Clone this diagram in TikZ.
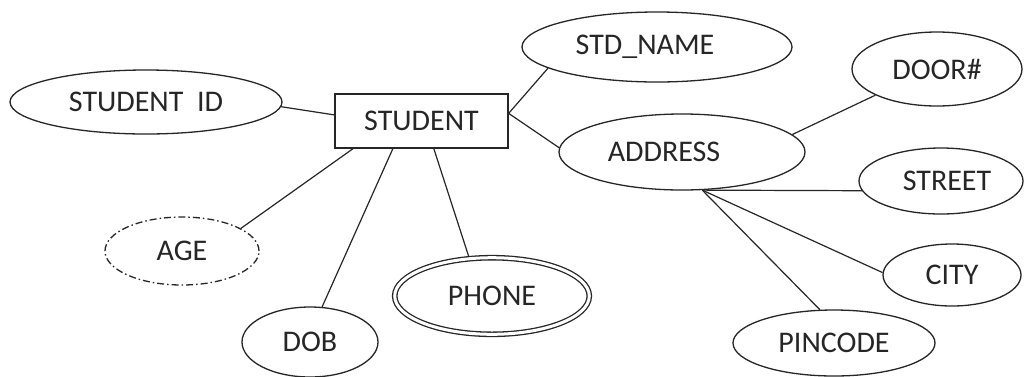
\documentclass[tikz,border=0pt]{standalone}
\usepackage{fontspec}
\setmainfont{Carlito}
\usetikzlibrary{shapes.geometric}
\pgfdeclarelayer{paper}
\pgfdeclarelayer{edges}
\pgfsetlayers{paper,edges,main}
\begin{document}
\begin{tikzpicture}[x=1pt,y=-1pt,
  lbl/.style={font=\fontsize{30}{34}\selectfont,text=black!85},
  attr/.style={lbl,ellipse,draw=black!85,line width=1.3pt,fill=white,inner sep=0pt},
  derived/.style={attr,dash pattern=on 7pt off 3pt on 1.5pt off 3pt},
  multi/.style={attr,double=white,double distance=3pt},
  ent/.style={lbl,rectangle,draw=black!85,line width=1.3pt,fill=white,inner sep=0pt},
  conn/.style={line width=1.2pt,draw=black!85}]
\begin{pgfonlayer}{paper}
\fill[white] (0,0) rectangle (1024,376);
\end{pgfonlayer}
\useasboundingbox (0,0) rectangle (1024,376);
% entity
\node[ent,minimum width=173pt,minimum height=54pt] (student) at (421.5,121) {STUDENT};
% attributes
\node[attr,minimum width=272pt,minimum height=64pt] (sid) at (146,102) {STUDENT~~ID};
\node[attr,minimum width=270pt,minimum height=70pt] (stdname) at (657,47) {STD\_NAME\hspace*{24pt}};
\node[attr,minimum width=246pt,minimum height=76pt] (address) at (682,152) {ADDRESS\hspace*{36pt}};
\node[attr,minimum width=170pt,minimum height=74pt] (door) at (937,69) {DOOR\#};
\node[attr,minimum width=164pt,minimum height=66pt] (street) at (941,181) {\hspace*{12pt}STREET};
\node[attr,minimum width=138pt,minimum height=62pt] (city) at (952,275) {CITY};
\node[attr,minimum width=202pt,minimum height=66pt] (pincode) at (834,343) {PINCODE};
\node[derived,minimum width=154pt,minimum height=68pt] (age) at (182,251) {AGE};
\node[attr,minimum width=136pt,minimum height=70pt] (dob) at (310,342) {DOB};
\node[multi,minimum width=194.6pt,minimum height=76.6pt] (phone) at (492,296) {PHONE};
% connectors
\begin{pgfonlayer}{edges}
\draw[conn] (student.176.7) -- (sid.-2);
\draw[conn] (student.5.9) -- (stdname.191);
\draw[conn] (student.5.9) -- (address.178);
\draw[conn] (student.202.1) -- (age.21);
\draw[conn] (student.224.5) -- (dob.71);
\draw[conn] (student.294.8) -- (phone.121);
\draw[conn] (address.9) -- (door.203);
\draw[conn] (address.-62) -- (street.187);
\draw[conn] (address.-62) -- (city.178);
\draw[conn] (address.-62) -- (pincode.113);
\end{pgfonlayer}
\end{tikzpicture}
\end{document}
